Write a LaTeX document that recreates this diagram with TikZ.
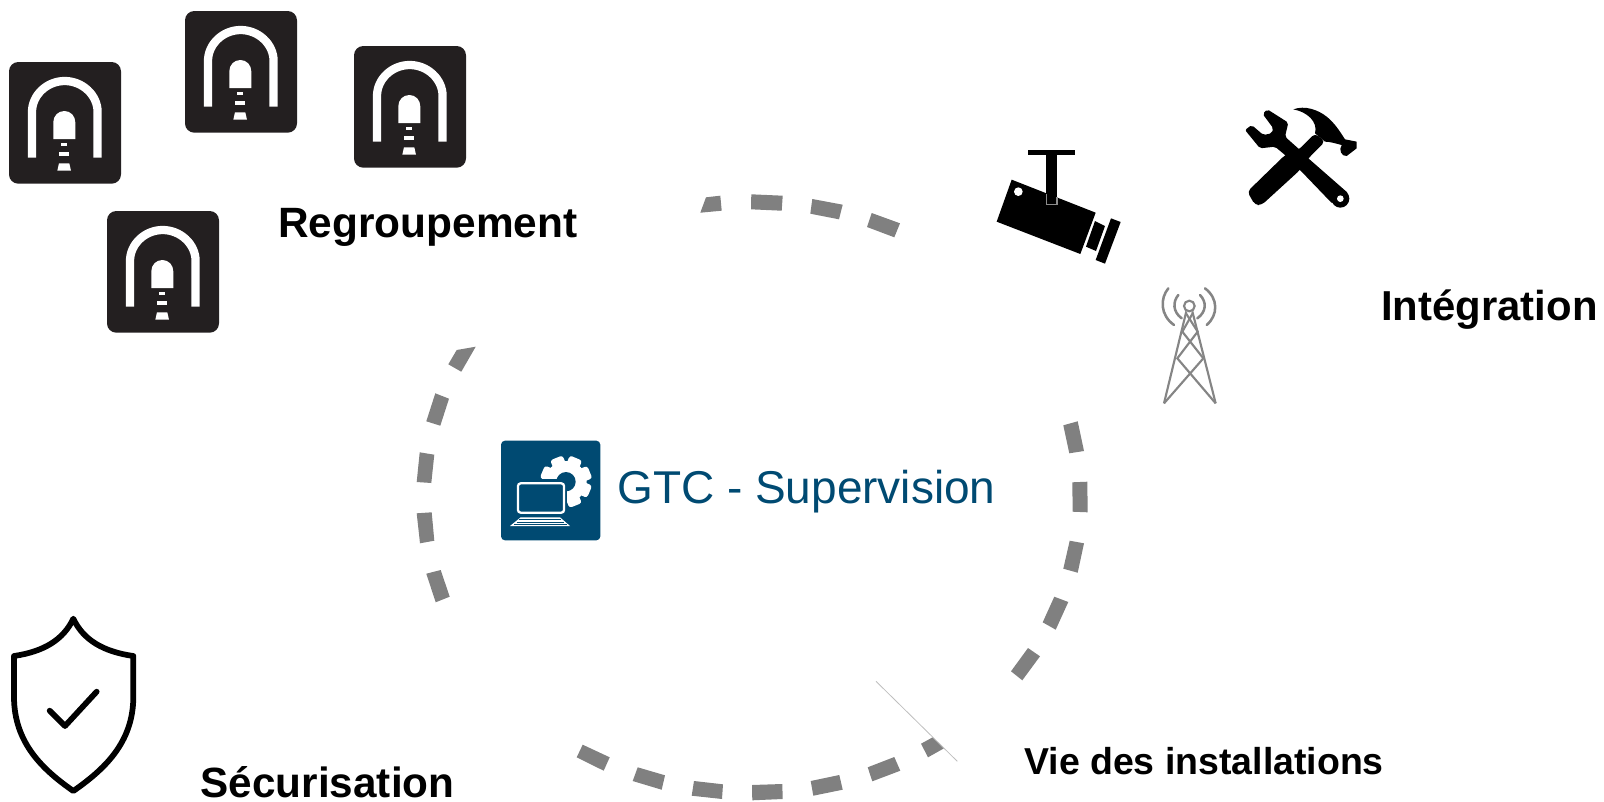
\documentclass[tikz,border=0pt]{standalone}
\usepackage{fontspec}
\setmainfont{Liberation Sans}
\definecolor{tunnelblack}{HTML}{231F20}
\definecolor{gtcblue}{HTML}{004A72}
\definecolor{dashgrey}{HTML}{808080}
\definecolor{towergrey}{HTML}{858585}
\tikzset{
  seg/.style={fill=dashgrey,draw=none},
  boldlabel/.style={anchor=base west,inner sep=0pt,text=black,font=\bfseries},
  towerline/.style={draw=towergrey,line width=1.6pt},
  towerwave/.style={draw=towergrey,line width=1.9pt,line cap=round},
  blackfill/.style={fill=black,draw=none}
}
\newcommand{\tunnelicon}[2]{%
  \begin{scope}[shift={(#1,#2)}]
    \fill[tunnelblack,rounded corners=7pt] (0,0) rectangle (112,121.7);
    \draw[white,line width=6.2pt] (23,95.7) -- (23,50) .. controls (23,33) and (38,19) .. (55.7,19) .. controls (73.4,19) and (88.6,33) .. (88.6,50) -- (88.6,95.7);
    \fill[white] (44.3,77) -- (44.3,60.3) .. controls (44.3,54) and (49,49) .. (55.3,49) .. controls (61.6,49) and (66.3,54) .. (66.3,60.3) -- (66.3,77) -- cycle;
    \fill[white] (52.3,81.3) rectangle (57.7,84.3);
    \fill[white] (50.3,89.7) rectangle (59.7,94);
    \fill[white] (50,101.3) -- (60.3,101.3) -- (62,108.7) -- (48.3,108.7) -- cycle;
  \end{scope}}
\begin{document}
\begin{tikzpicture}[x=0.75pt,y=-0.75pt]
\useasboundingbox (0,0) rectangle (1604,801);

% tunnels
\tunnelicon{9}{62}
\tunnelicon{185}{11}
\tunnelicon{354}{46}
\tunnelicon{107}{211}

% dashes: left
\path[seg] (456.7,350) -- (475.7,346.7) -- (461.3,371.7) -- (448.3,364.3) -- cycle;
\path[seg] (435.3,393.3) -- (449,398.7) -- (440.3,425.7) -- (426.3,421.3) -- cycle;
\path[seg] (419.7,452.3) -- (434.3,454.7) -- (431.3,483) -- (416.7,482) -- cycle;
\path[seg] (416.7,513.3) -- (431.7,512.3) -- (434.3,540.7) -- (420,543.3) -- cycle;
\path[seg] (426.3,573.7) -- (440.7,570) -- (449.7,596.7) -- (435.7,602.3) -- cycle;
% top
\path[seg] (706,197.3) -- (720.3,195.7) -- (721.7,210.7) -- (700.3,212.7) -- cycle;
\path[seg] (751.3,194.3) -- (782.7,195.7) -- (781.7,210.7) -- (751,209.3) -- cycle;
\path[seg] (812.3,199) -- (842.7,204.7) -- (839,219.3) -- (810.3,213.7) -- cycle;
\path[seg] (871.7,213) -- (900,223.3) -- (894.3,237.3) -- (867,227) -- cycle;
% right
\path[seg] (1063.3,425.3) -- (1077.7,421.3) -- (1084,451) -- (1069.3,453.3) -- cycle;
\path[seg] (1072.3,482.3) -- (1087.3,481.7) -- (1087.7,512.3) -- (1072.7,511.7) -- cycle;
\path[seg] (1069.7,540.7) -- (1084,543.3) -- (1077.7,572.7) -- (1063.3,568.7) -- cycle;
\path[seg] (1054.3,596.7) -- (1068.3,602) -- (1055.7,629.7) -- (1042.7,622.3) -- cycle;
\path[seg] (1028,648) -- (1040,656.3) -- (1022.3,680.3) -- (1011,671.3) -- cycle;
% bottom
\path[seg] (582.7,744.7) -- (609.7,757.3) -- (603.7,770.7) -- (576.7,757.3) -- cycle;
\path[seg] (637.7,767.3) -- (665,775.3) -- (661.7,789.7) -- (632.7,781) -- cycle;
\path[seg] (694,781) -- (723,784.3) -- (722,799) -- (691.7,795.7) -- cycle;
\path[seg] (752,785) -- (782.3,784) -- (782.7,799) -- (752.3,800.3) -- cycle;
\path[seg] (810.7,781) -- (839.3,775) -- (842.7,789.7) -- (813.3,795.7) -- cycle;
\path[seg] (867.7,767.3) -- (894.3,757) -- (900.3,770.7) -- (872.3,781.3) -- cycle;
\path[seg] (921,743.7) -- (932.7,737.3) -- (944,748.3) -- (928,757.3) -- cycle;
% thin line
\coordinate (thinA) at (876,681.3);
\coordinate (thinB) at (957.3,761.3);
\draw[black!25,line width=0.6pt] (thinA) -- (thinB);

% camera
\begin{scope}[shift={(980,90)},scale=1/3]
  \path[blackfill] (143,180) rectangle (284,196);
  \path[blackfill] (198,190) rectangle (232,345);
  \path[blackfill] (95,269) -- (347,368) -- (301,492) -- (50,395) -- cycle;
  \draw[black!45,line width=0.9pt] (199,312) -- (199,343) -- (231,343) -- (231,322);
  \fill[white] (115,305) circle (13);
  \path[blackfill] (345,393) -- (375,408) -- (348,483) -- (318,470) -- cycle;
  \path[blackfill] (393,385) -- (422,396) -- (375,521) -- (347,510) -- cycle;
\end{scope}

% tools
\begin{scope}[shift={(1230,100)},scale=1/3]
  \path[blackfill,rounded corners=1.5pt] (45,90) -- (65,75) -- (100,105) -- (125,100) -- (130,85) -- (98,42) -- (112,28) -- (175,68) -- (165,110) -- (210,150) -- (235,175) -- (355,280) -- (308,312) -- (210,210) -- (165,165) -- (135,140) -- (90,145) -- cycle;
  \fill[black] (331,296) circle (27);
  \fill[white] (331,296) circle (10);
  \path[blackfill,rounded corners=3pt] (52,275) -- (165,165) -- (205,150) -- (255,100) -- (285,125) -- (235,175) -- (210,210) -- (95,315) -- (75,315) -- cycle;
  \path[blackfill] (190,28) .. controls (225,15) and (265,30) .. (290,50) .. controls (315,70) and (330,95) .. (345,118) -- (380,125) -- (380,145) -- (350,168) .. controls (335,170) and (325,150) .. (335,135) .. controls (315,130) and (300,125) .. (285,125) -- (255,100) .. controls (265,65) and (230,35) .. (190,28) -- cycle;
\end{scope}

% tower
\begin{scope}[shift={(1150,280)},scale=1/3]
  \draw[towerline] (118,78) circle (16);
  \draw[towerline] (109,94) -- (42,370);
  \draw[towerline] (127,94) -- (197,370);
  \draw[towerline] (128,100) -- (97,155) -- (160,235) -- (42,370);
  \draw[towerline] (108,100) -- (143,155) -- (82,235) -- (197,370);
  \draw[towerwave] (55,25) .. controls (30,55) and (30,105) .. (72,135);
  \draw[towerwave] (85,45) .. controls (68,65) and (68,95) .. (95,115);
  \draw[towerwave] (165,25) .. controls (205,55) and (205,105) .. (170,135);
  \draw[towerwave] (150,45) .. controls (170,65) and (170,95) .. (142,115);
\end{scope}

% shield
\begin{scope}[shift={(0,600)},scale=1/3]
  \draw[black,line width=4.3pt,line join=round] (220,56) .. controls (190,120) and (130,155) .. (42,168) -- (42,290) .. controls (42,430) and (130,510) .. (220,573) .. controls (310,510) and (400,430) .. (400,290) -- (400,168) .. controls (310,155) and (250,120) .. (220,56) -- cycle;
  \draw[black,line width=4.3pt,line cap=round,line join=round] (149,332) -- (195,378) -- (290,275);
\end{scope}

% GTC icon
\begin{scope}[shift={(490,430)},scale=1/3]
  \fill[gtcblue,rounded corners=3pt] (33,32) rectangle (331,331);
  \fill[white] (228,155) circle (62);
  \foreach \a in {22,67,112,157,202,247,292,337}{
    \fill[white,rotate around={\a:(228,155)},rounded corners=2pt] (208,155) rectangle (248,78);
  }
  \fill[gtcblue] (228,155) circle (29);
  \fill[gtcblue] (76,147) rectangle (232,295);
  \draw[white,line width=1.7pt,rounded corners=2pt] (84,160) rectangle (222,248);
  \fill[white] (92,262) -- (210,262) -- (240,288) -- (60,288) -- cycle;
  \draw[gtcblue,line width=0.35pt] (88,269) -- (214,269) (80,276) -- (222,276) (72,282) -- (230,282);
\end{scope}

% labels
\node[boldlabel,font=\bfseries\fontsize{31.8}{38}\selectfont] (regroup) at (278,237.5) {Regroupement};
\node[boldlabel,font=\bfseries\fontsize{31.4}{38}\selectfont] (integ) at (1381,320) {Intégration};
\node[boldlabel,font=\bfseries\fontsize{31.7}{38}\selectfont] (secur) at (200.5,797) {Sécurisation};
\node[boldlabel,font=\bfseries\fontsize{28.1}{34}\selectfont] (vie) at (1024,774.5) {Vie des installations};
\node[anchor=base west,inner sep=0pt,text=gtcblue,font=\fontsize{34.5}{41}\selectfont] (gtc) at (617,503) {GTC - Supervision};
\end{tikzpicture}
\end{document}
